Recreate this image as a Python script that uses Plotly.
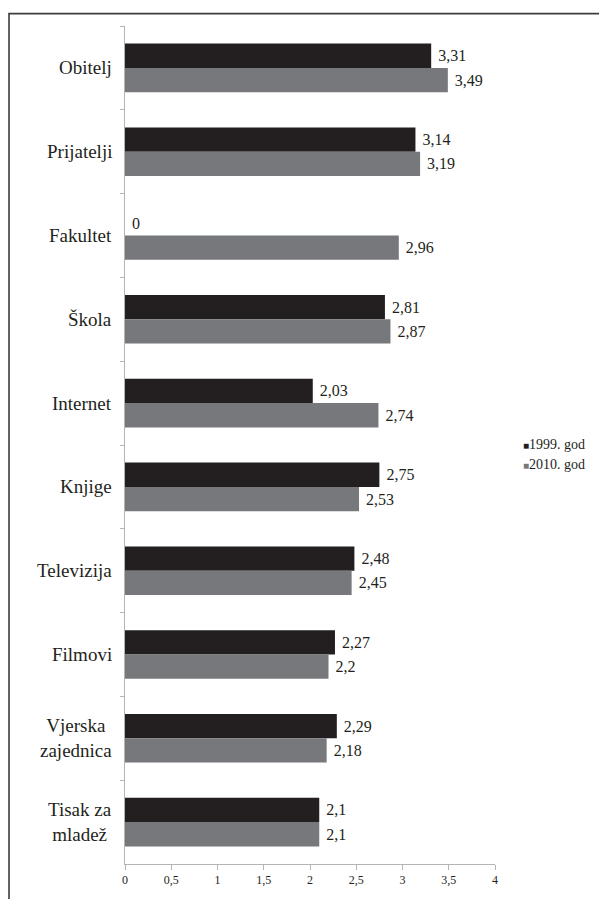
import plotly.graph_objects as go

categories = ["Obitelj", "Prijatelji", "Fakultet", "Škola", "Internet", "Knjige",
              "Televizija", "Filmovi", "Vjerska<br>zajednica", "Tisak za<br>mladež"]
vals_1999 = [3.31, 3.14, 0, 2.81, 2.03, 2.75, 2.48, 2.27, 2.29, 2.1]
vals_2010 = [3.49, 3.19, 2.96, 2.87, 2.74, 2.53, 2.45, 2.2, 2.18, 2.1]
series_names = ["1999. god", "2010. god"]
series_colors = ["#231f20", "#77787b"]
x_ticks = [0, 0.5, 1, 1.5, 2, 2.5, 3, 3.5, 4]
x_tick_labels = ["0", "0,5", "1", "1,5", "2", "2,5", "3", "3,5", "4"]


def fmt(v):
    s = f"{v:g}"
    return s.replace(".", ",")


font_family = "Liberation Serif"
text_color = "#231f20"

fig = go.Figure()
for name, vals, color in zip(series_names, [vals_1999, vals_2010], series_colors):
    fig.add_trace(go.Bar(
        y=categories, x=vals, name=name, orientation="h",
        marker=dict(color=color, line=dict(width=0)),
        text=[fmt(v) for v in vals], texttemplate=" %{text}", textposition="outside",
        textfont=dict(family=font_family, size=16, color=text_color),
        cliponaxis=False, showlegend=False, hoverinfo="skip",
    ))

annotations = []
# category labels (right-aligned block, lines centred within)
for cat in categories:
    annotations.append(dict(
        x=0, xref="paper", y=cat, yref="y", text=cat, showarrow=False,
        xanchor="right", yanchor="middle", xshift=-11, align="center",
        font=dict(family=font_family, size=19, color=text_color),
    ))
# legend built from small coloured squares + labels
legend_y = [0.501, 0.477]
for name, color, ly in zip(series_names, series_colors, legend_y):
    annotations.append(dict(
        x=1.07, xref="paper", y=ly, yref="paper", showarrow=False,
        xanchor="left", yanchor="middle",
        text=f'<span style="color:{color};font-size:10px">■</span>{name}',
        font=dict(family=font_family, size=14, color=text_color),
    ))

fig.update_layout(
    width=599, height=899,
    margin=dict(l=125, r=104, t=26, b=26),
    paper_bgcolor="white", plot_bgcolor="white",
    barmode="group", bargap=0.42, bargroupgap=0,
    font=dict(family=font_family, color=text_color),
    showlegend=False,
    annotations=annotations,
    shapes=[dict(type="rect", xref="paper", yref="paper",
                 x0=-0.3135, x1=2.0, y0=-1.0, y1=1.0148,
                 line=dict(color="#3c3c3c", width=1.6), fillcolor="rgba(0,0,0,0)")],
)
fig.update_yaxes(
    autorange="reversed", type="category",
    showline=True, linecolor="#b4b4b4", linewidth=1,
    ticks="outside", tickson="boundaries", ticklen=4, tickcolor="#b4b4b4",
    showticklabels=False, showgrid=False,
)
fig.update_xaxes(
    range=[0, 4], tickvals=x_ticks, ticktext=x_tick_labels,
    showline=True, linecolor="#b4b4b4", linewidth=1,
    ticks="outside", ticklen=5, tickcolor="#b4b4b4",
    tickfont=dict(size=12, family=font_family, color=text_color),
    showgrid=False, zeroline=False,
)

fig.write_html("out.html",
               config={"displayModeBar": False},
               post_script="document.body.style.margin='0';document.body.style.overflow='hidden';")
